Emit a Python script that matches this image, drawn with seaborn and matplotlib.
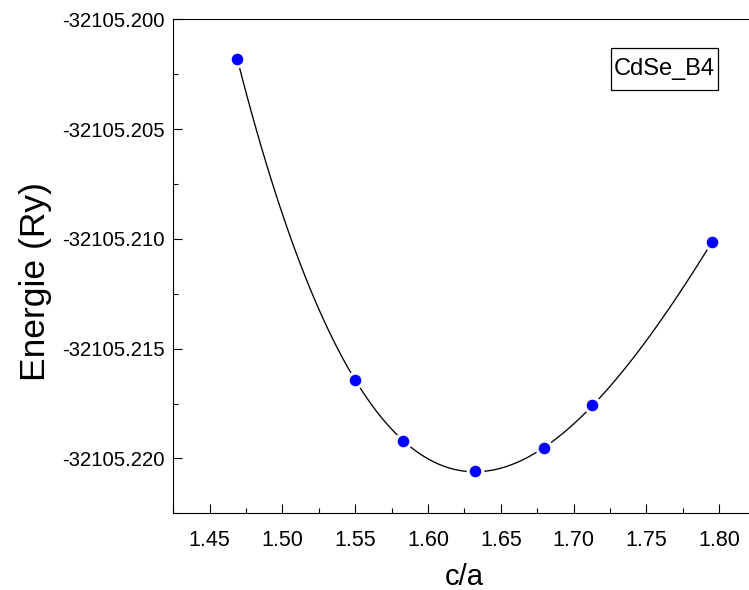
import matplotlib
matplotlib.use("Agg")
import matplotlib.pyplot as plt
import matplotlib.ticker as mticker
from matplotlib.patches import Rectangle
import seaborn as sns
import pandas as pd

# data
ca = [1.469, 1.550, 1.583, 1.632, 1.680, 1.713, 1.795]
energie = [-32105.20182, -32105.21643, -32105.21921, -32105.22057,
           -32105.21954, -32105.21757, -32105.21016]
x_ticks = [1.45, 1.50, 1.55, 1.60, 1.65, 1.70, 1.75, 1.80]
y_ticks = [-32105.220, -32105.215, -32105.210, -32105.205, -32105.200]
label_text = "CdSe_B4"

df = pd.DataFrame({"c/a": ca, "E": energie})

sns.set_style("ticks")
plt.rcParams["font.family"] = ["Liberation Sans", "DejaVu Sans"]
plt.rcParams["text.color"] = "black"
plt.rcParams["axes.labelcolor"] = "black"

fig = plt.figure(figsize=(7.49, 5.90), dpi=100)
ax = fig.add_axes([0.2314, 0.1300, 0.7772, 0.8373])

# smooth curve through the points
sns.regplot(data=df, x="c/a", y="E", order=4, ci=None, scatter=False,
            truncate=True, ax=ax, line_kws=dict(color="black", lw=0.95, zorder=2))
# points
sns.scatterplot(data=df, x="c/a", y="E", ax=ax, color="#0000ff", s=112,
                edgecolor="white", linewidth=2.2, zorder=3)

ax.set_xlim(1.425, 1.825)
ax.set_ylim(-32105.2225, -32105.200)
ax.set_xticks(x_ticks)
ax.set_yticks(y_ticks)
ax.xaxis.set_major_formatter(mticker.FormatStrFormatter("%.2f"))
ax.yaxis.set_major_formatter(mticker.FormatStrFormatter("%.3f"))
ax.xaxis.set_minor_locator(mticker.AutoMinorLocator(2))
ax.yaxis.set_minor_locator(mticker.AutoMinorLocator(2))

ax.tick_params(axis="both", which="major", direction="in", length=6.3,
               width=0.8, color="black", labelcolor="black")
ax.tick_params(axis="both", which="minor", direction="in", length=3.3,
               width=0.8, color="black")
ax.tick_params(axis="x", which="major", labelsize=15.5, pad=12)
ax.tick_params(axis="y", which="major", labelsize=14.6, pad=6.5)
ax.tick_params(top=False, right=False, which="both")

for side in ["left", "bottom", "top", "right"]:
    ax.spines[side].set_visible(True)
    ax.spines[side].set_color("black")
    ax.spines[side].set_linewidth(0.8)

ax.set_xlabel("c/a", fontsize=21, color="black")
ax.set_ylabel("Energie (Ry)", fontsize=25.5, color="black", va="center")
ax.xaxis.set_label_coords(0.5, -0.100)
ax.yaxis.set_label_coords(-0.2376, 0.470)

# label box
ax.add_patch(Rectangle((0.7514, 0.8569), 0.1849, 0.0844, transform=ax.transAxes,
                       facecolor="white", edgecolor="black", lw=0.9, zorder=4))
ax.text(0.8438, 0.899, label_text, transform=ax.transAxes, ha="center",
        va="center", fontsize=17, color="black", zorder=5)

fig.savefig("out.png", dpi=100)
